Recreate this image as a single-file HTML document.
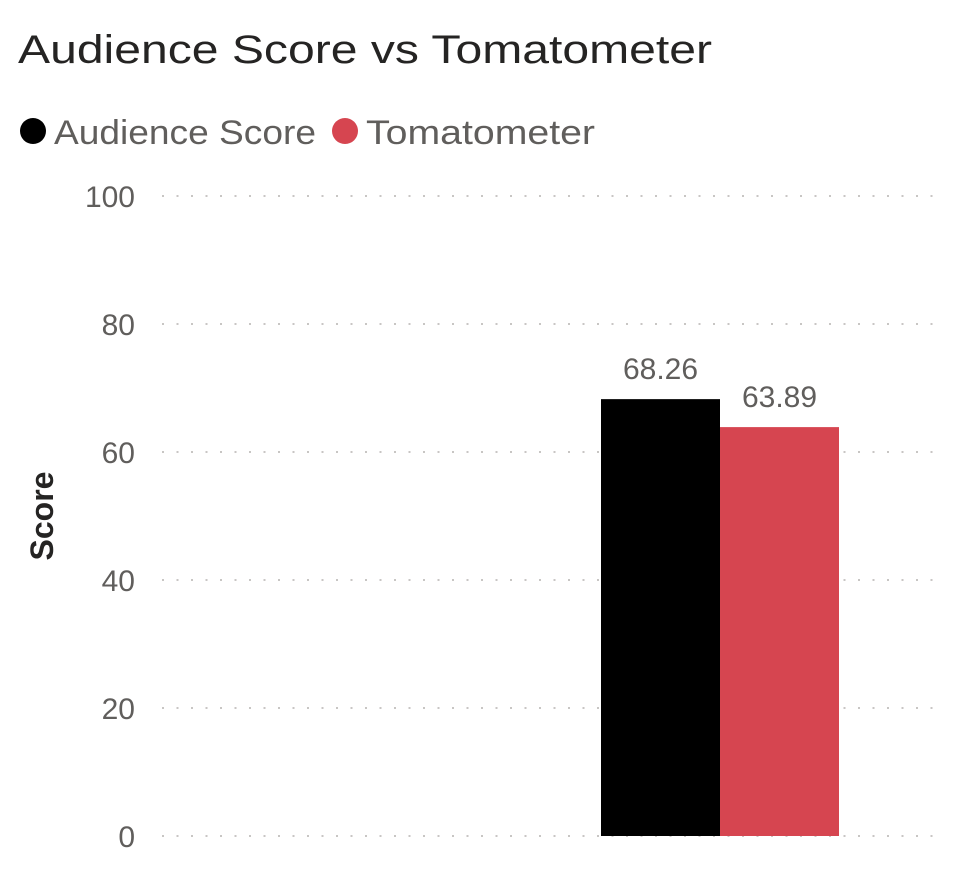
<!DOCTYPE html>
<html><head><meta charset="utf-8"><style>
body{margin:0;background:#fff;}
svg{display:block;font-family:"Liberation Sans",sans-serif;}
</style></head><body>
<svg id="chart" width="954" height="894" viewBox="0 0 954 894">
<text x="18" y="63" font-size="40" fill="#252423" textLength="694" lengthAdjust="spacingAndGlyphs">Audience Score vs Tomatometer</text>
<g>
<circle cx="33" cy="131" r="13" fill="#000"/>
<text x="54" y="144" font-size="34" fill="#605e5c" textLength="262" lengthAdjust="spacingAndGlyphs">Audience Score</text>
<circle cx="345" cy="131" r="13" fill="#d64550"/>
<text x="366" y="144" font-size="34" fill="#605e5c" textLength="229" lengthAdjust="spacingAndGlyphs">Tomatometer</text>
</g>
<text transform="translate(53,516) rotate(-90)" text-anchor="middle" font-size="32" font-weight="bold" fill="#252423">Score</text>
<g id="grid"></g><g id="bars"></g>
</svg>
<script>
const ticks=[0,20,40,60,80,100];
const tickLabels=["0","20","40","60","80","100"];
const categories=["All"];
const audience=[68.26];
const tomatometer=[63.89];
const valueLabels=[["68.26"],["63.89"]];
const NS="http://www.w3.org/2000/svg";
const y0=836,y1=196,x0=162,x1=940;
function y(v){return y0-(v/100)*(y0-y1);}
function groupCenter(i){return 720+i*200;}
const barW=119;
const grid=document.getElementById('grid'),bars=document.getElementById('bars');
function mk(t,a,p){const e=document.createElementNS(NS,t);for(const k in a)e.setAttribute(k,a[k]);p.appendChild(e);return e;}
ticks.forEach((t,i)=>{
 const l=mk('line',{x1:x0,x2:x1,y1:y(t),y2:y(t),stroke:'#c8c6c4','stroke-width':2,'stroke-dasharray':'2 12.5'},grid);
 
 
 const tx=mk('text',{x:135,y:y(t)+11,'text-anchor':'end','font-size':30,fill:'#605e5c'},grid);
 tx.textContent=tickLabels[i];
 
 
});
const series=[audience,tomatometer],colors=['#000','#d64550'],names=['audience','tomatometer'];
categories.forEach((c,i)=>{
 series.forEach((s,j)=>{
  const bx=groupCenter(i)-barW+j*barW;
  const r=mk('rect',{x:bx,y:y(s[i]),width:barW,height:y0-y(s[i]),fill:colors[j]},bars);
  
  
  const t=mk('text',{x:bx+barW/2,y:y(s[i])-20,'text-anchor':'middle','font-size':30,fill:'#605e5c'},bars);
  t.textContent=valueLabels[j][i];
  
  
 });
});
</script>
</body></html>
